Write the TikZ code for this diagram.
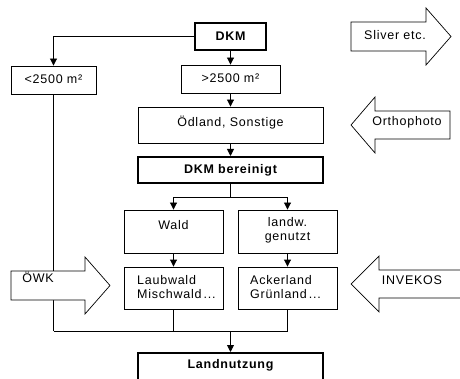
\documentclass[tikz,border=0pt]{standalone}
\usepackage{fontspec}
\setmainfont{Liberation Sans}[LetterSpace=6]
\usetikzlibrary{arrows.meta}
\begin{document}
\begin{tikzpicture}[x=1pt,y=-1pt,
  every node/.style={font=\fontsize{12.5}{14}\selectfont},
  box/.style={draw, line width=0.9pt, inner sep=0pt, fill=white},
  thickbox/.style={draw, line width=2pt, inner sep=0pt, fill=white},
  txt/.style={inner sep=0pt, align=center},
  ln/.style={line width=0.9pt},
  arr/.style={line width=0.9pt, -{Triangle[length=7pt,width=7pt]}},
  bigarrow/.style={draw, line width=0.7pt, fill=white, line join=miter}]
\useasboundingbox (0,0) rectangle (460,379);
\clip (0,0) rectangle (460,379);

% boxes
\node[thickbox, minimum width=71, minimum height=27] (dkm) at (230.5,36.5) {};
\node[txt] (dkmT) at (230.5,36.5) {\bfseries DKM};
\node[box, minimum width=85, minimum height=28] (lt) at (53.5,80) {};
\node[txt] (ltT) at (53.5,79) {<2500 m²};
\node[box, minimum width=99, minimum height=28] (gt) at (230.5,79) {};
\node[txt] (gtT) at (230.5,78) {>2500 m²};
\node[box, minimum width=185, minimum height=36] (od) at (230.5,125) {};
\node[txt] (odT) at (230.5,123) {Ödland, Sonstige};
\node[thickbox, minimum width=185, minimum height=26] (ber) at (230.5,170) {};
\node[txt] (berT) at (230.5,170) {\bfseries DKM bereinigt};
\node[box, minimum width=99, minimum height=43] (wald) at (173.5,231.5) {};
\node[txt] (waldT) at (173.5,225) {Wald};
\node[box, minimum width=99, minimum height=43] (landw) at (287.5,231.5) {};
\node[txt] (landwT) at (287.5,230) {landw.\\genutzt};
\node[box, minimum width=99, minimum height=42] (laub) at (173.5,288) {};
\node[txt, anchor=west, align=left] (laubT) at (137,287) {Laubwald\\Mischwald\,...};
\node[box, minimum width=99, minimum height=42] (acker) at (287.5,288) {};
\node[txt, anchor=west, align=left] (ackerT) at (250,287) {Ackerland\\Grünland\,...};
\node[thickbox, minimum width=185, minimum height=44, anchor=north] (land) at (230.5,352) {};
\node[txt] (landT) at (230.5,365) {\bfseries Landnutzung};

% connectors
\draw[arr] (dkm.west) -| (lt.north);
\draw[arr] (dkm.south) -- (gt.north);
\draw[arr] (gt.south) -- (od.north);
\draw[arr] (od.south) -- (ber.north);
\draw[ln] (ber.south) -- (230.5,197) coordinate (split);
\draw[arr] (split) -| (wald.north);
\draw[arr] (split) -| (landw.north);
\draw[arr] (wald.south) -- (laub.north);
\draw[arr] (landw.south) -- (acker.north);
\draw[ln] (lt.south) -- (53.5,331) coordinate (mL);
\draw[ln] (laub.south) -- (173.5,331) coordinate (mM);
\draw[ln] (acker.south) -- (287.5,331) coordinate (mR);
\draw[ln] (mL) -- (mR);
\draw[arr] (230.5,331) coordinate (mC) -- (land.north);

% big block arrows
\draw[bigarrow] (351,22) -- (426,22) -- (426,8) -- (451,36.5) -- (426,65) -- (426,51) -- (351,51) -- cycle;
\node[txt] (sliverT) at (395,35) {Sliver etc.};
\draw[bigarrow] (450,111) -- (375,111) -- (375,97) -- (351,125) -- (375,153) -- (375,139) -- (450,139) -- cycle;
\node[txt] (orthoT) at (407,122) {Orthophoto};
\draw[bigarrow] (470,270) -- (379,270) -- (379,256) -- (351,284) -- (379,312) -- (379,298) -- (470,298);
\node[txt] (invT) at (412,280) {INVEKOS};
\draw[bigarrow] (11,271) -- (85,271) -- (85,257) -- (110,285.5) -- (85,314) -- (85,300) -- (11,300) -- cycle;
\node[txt] (owkT) at (38,277) {ÖWK};
\end{tikzpicture}
\end{document}
